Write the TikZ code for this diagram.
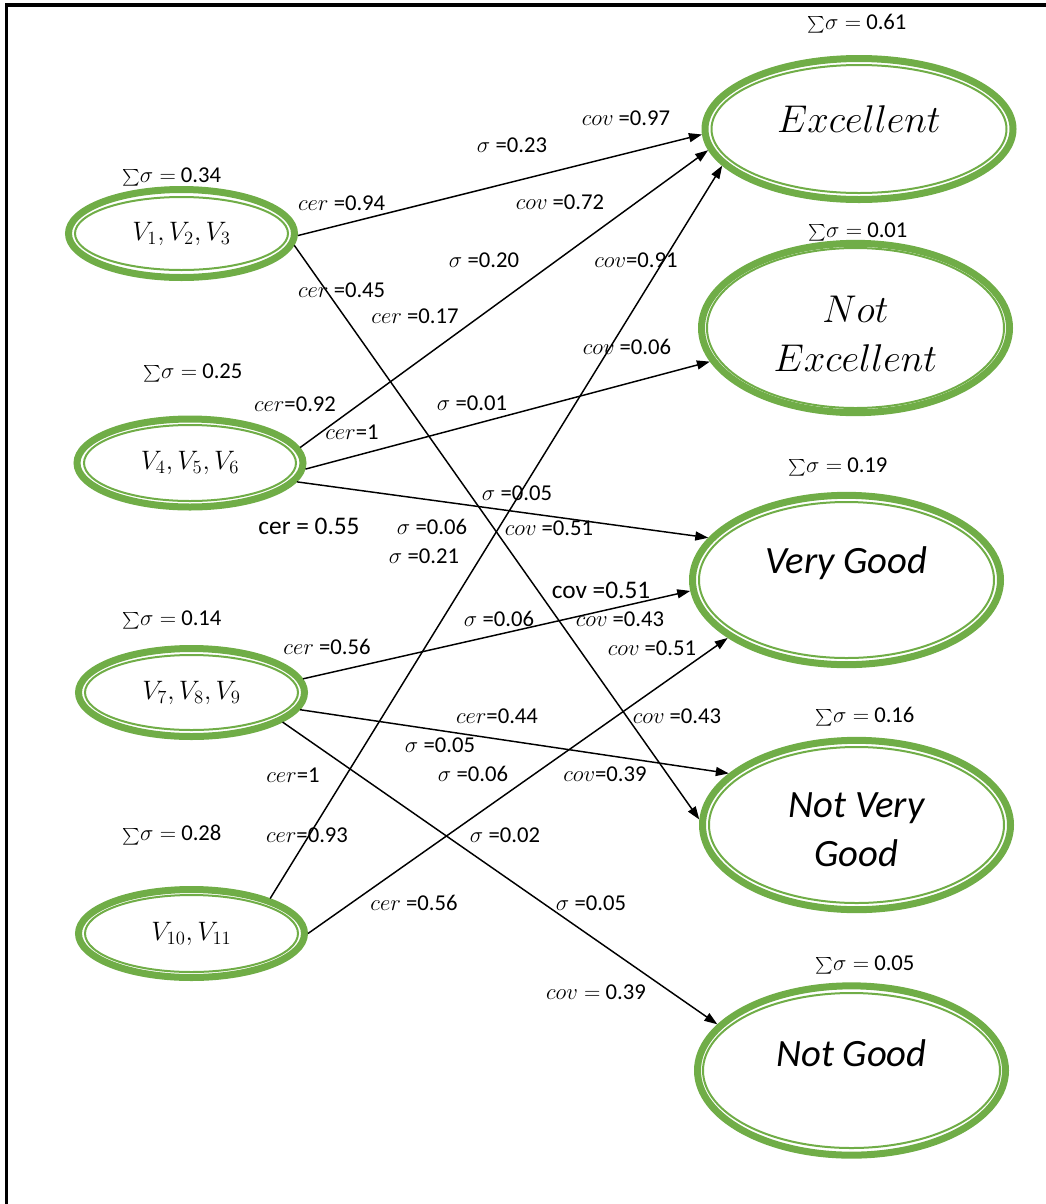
\RequirePackage{fix-cm}
\documentclass[tikz,border=0pt]{standalone}
\usepackage{fontspec}
\setmainfont{Carlito}
\usetikzlibrary{shapes.geometric,arrows.meta}
\definecolor{leafgreen}{RGB}{112,173,71}
\newcommand{\lift}[2]{\raisebox{#1}[\height][\depth]{#2}}
\newcommand{\bigsum}{\raisebox{-0.12em}{\scalebox{1.25}{$\sum$}}}

\begin{document}
\begin{tikzpicture}[x=0.75pt,y=0.75pt,yscale=-1,xscale=1,
  srcnode/.style={ellipse, draw=leafgreen, line width=5.25pt, inner sep=0pt, minimum width=169.5pt, minimum height=66pt, font=\fontsize{20}{24}\selectfont},
  classnode/.style={ellipse, draw=leafgreen, line width=5.25pt, inner sep=0pt, minimum width=231pt, minimum height=127pt, font=\fontsize{29}{36.75}\selectfont},
  innerring/.style={draw=leafgreen, line width=1.5pt},
  conn/.style={line width=1.1pt, -{Triangle[length=9.75pt,width=6.75pt]}},
  lbl/.style={inner sep=0pt, font=\fontsize{17}{20}\selectfont}]
\useasboundingbox (0,0) rectangle (1046,1204);

%Frame
\draw [line width=2.6pt] (6.5,1204) -- (6.5,5) -- (1046,5) ;

%Shape: Ellipse (sources)
\node [srcnode] (a) at (181.5,233.5) {$V_1, V_2, V_3$};
\node [srcnode] (b) at (190,463) {$V_4, V_5, V_6$};
\node [srcnode] (c) at (191.5,692.5) {$V_7, V_8, V_9$};
\node [srcnode] (d) at (191.5,933.5) {$V_{10}, V_{11}$};

%Shape: Ellipse (classes)
\node [classnode, minimum height=105.75pt] (exc) at (859,129) {\lift{7.5pt}{$Excellent$}};
\node [classnode] (notexc) at (855.5,328) {\lift{-6.75pt}{\begin{tabular}{@{}c@{}}$Not$\\$Excellent$\end{tabular}}};
\node [classnode] (vgood) at (846.5,580) {\lift{12.75pt}{\itshape Very Good}};
\node [classnode] (nvgood) at (856.5,825) {\lift{-5.25pt}{\begin{tabular}{@{}c@{}}\itshape Not Very\\\itshape Good\end{tabular}}};
\node [classnode] (ngood) at (851.5,1070.5) {\lift{13pt}{\itshape Not Good}};

%Inner rings
\foreach \n/\rx/\ry in {a/106.5/36.5, b/106/38, c/106.5/37.5, d/106.5/38.5, exc/147.5/64, notexc/148.5/80, vgood/147.5/78, nvgood/147.5/78, ngood/148.5/77.5}
  \draw [innerring] (\n.center) ellipse [x radius=\rx, y radius=\ry] ;

%Straight Lines
\draw [conn] (a.-1.5) -- (exc.182) ;
\draw [conn] (a.-6) -- (nvgood.178) ;
\draw [conn] (b.8) -- (exc.188.5) ;
\draw [conn] (b.-3) -- (notexc.193) ;
\draw [conn] (b.-10.5) -- (vgood.163) ;
\draw [conn] (c.7) -- (vgood.184.5) ;
\draw [conn] (c.-9) -- (nvgood.158.4) ;
\draw [conn] (c.-18.5) -- (ngood.161.5) ;
\draw [conn] (d.24.3) -- (exc.195.6) ;
\draw [conn] (d.0) -- (vgood.206.6) ;

% Text Node
\node [lbl] (sum1) at (857,24) {\bigsum$\sigma =$ 0.61};
% Text Node
\node [lbl] (sum2) at (171.7,176.7) {\bigsum$\sigma =$ 0.34};
% Text Node
\node [lbl] (sum3) at (858,231.7) {\bigsum$\sigma =$ 0.01};
% Text Node
\node [lbl] (sum4) at (193,373) {\bigsum$\sigma =$ 0.25};
% Text Node
\node [lbl] (sum5) at (838,466.7) {\bigsum$\sigma =$ 0.19};
% Text Node
\node [lbl] (sum6) at (172,620) {\bigsum$\sigma =$ 0.14};
% Text Node
\node [lbl] (sum7) at (865,716.7) {\bigsum$\sigma =$ 0.16};
% Text Node
\node [lbl] (sum8) at (172,835) {\bigsum$\sigma =$ 0.28};
% Text Node
\node [lbl] (sum9) at (865,965) {\bigsum$\sigma =$ 0.05};

% Text Node
\node [lbl] (cer1) at (341.7,203) {$cer$ =0.94};
% Text Node
\node [lbl] (cer2) at (341.7,290) {$cer$ =0.45};
% Text Node
\node [lbl] (cer3) at (415,316.7) {$cer$ =0.17};
% Text Node
\node [lbl] (cer4) at (295,404) {$cer$=0.92};
% Text Node
\node [lbl] (cer5) at (352,431.7) {$cer$=1};
% Text Node
\node [lbl, font=\fontsize{19}{22}\selectfont] (cer6) at (309,526.7) {cer = 0.55};
% Text Node
\node [lbl] (cer7) at (327,646.7) {$cer$ =0.56};
% Text Node
\node [lbl] (cer8) at (497,716.7) {$cer$=0.44};
% Text Node
\node [lbl] (cer9) at (293,775) {$cer$=1};
% Text Node
\node [lbl] (cer10) at (307,835) {$cer$=0.93};
% Text Node
\node [lbl] (cer11) at (414,903) {$cer$ =0.56};

% Text Node
\node [lbl] (sig1) at (512,145) {$\sigma$ =0.23};
% Text Node
\node [lbl] (sig2) at (484,260) {$\sigma$ =0.20};
% Text Node
\node [lbl] (sig3) at (472,403) {$\sigma$ =0.01};
% Text Node
\node [lbl] (sig4) at (517,493) {$\sigma$ =0.05};
% Text Node
\node [lbl] (sig5) at (432,526.7) {$\sigma$ =0.06};
% Text Node
\node [lbl] (sig6) at (424,556.7) {$\sigma$ =0.21};
% Text Node
\node [lbl] (sig7) at (499,619) {$\sigma$ =0.06};
% Text Node
\node [lbl] (sig8) at (440,745) {$\sigma$ =0.05};
% Text Node
\node [lbl] (sig9) at (473,774) {$\sigma$ =0.06};
% Text Node
\node [lbl] (sig10) at (505,835) {$\sigma$ =0.02};
% Text Node
\node [lbl] (sig11) at (591,903) {$\sigma$ =0.05};

% Text Node
\node [lbl] (cov1) at (626,118) {$cov$ =0.97};
% Text Node
\node [lbl] (cov2) at (560,202.7) {$cov$ =0.72};
% Text Node
\node [lbl] (cov3) at (636,260) {$cov$=0.91};
% Text Node
\node [lbl] (cov4) at (627,346.7) {$cov$ =0.06};
% Text Node
\node [lbl] (cov5) at (549,528) {$cov$ =0.51};
% Text Node
\node [lbl, font=\fontsize{19}{22}\selectfont] (cov6) at (601,590) {cov =0.51};
% Text Node
\node [lbl] (cov7) at (620,619) {$cov$ =0.43};
% Text Node
\node [lbl] (cov8) at (652,648) {$cov$ =0.51};
% Text Node
\node [lbl] (cov9) at (677,716.7) {$cov$ =0.43};
% Text Node
\node [lbl] (cov10) at (605,774) {$cov$=0.39};
% Text Node
\node [lbl] (cov11) at (596,992) {$cov =$ 0.39};

\end{tikzpicture}
\end{document}
